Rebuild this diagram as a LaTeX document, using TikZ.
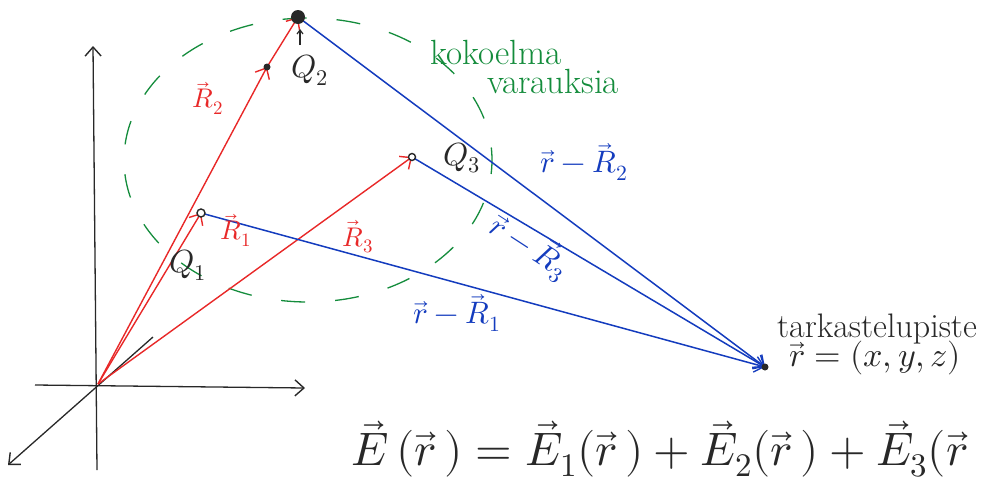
\documentclass[tikz,border=0pt]{standalone}
\usepackage{fontspec}
\usepackage{unicode-math}
\setmathfont{Latin Modern Math}
\usetikzlibrary{arrows.meta}
\definecolor{hred}{RGB}{232,40,40}
\definecolor{hblue}{RGB}{20,60,190}
\definecolor{hgreen}{RGB}{20,140,60}
\definecolor{hblack}{RGB}{40,40,40}
\tikzset{
  barb/.style={-{Straight Barb[length=9pt,width=16pt,line width=1.4pt]}},
  axis/.style={hblack, line width=1.3pt, barb},
  rvec/.style={hred, line width=1.4pt, barb},
  bvec/.style={hblue, line width=1.5pt, barb},
  qlab/.style={text=hblack, font=\fontsize{32}{34}\selectfont},
  rlab/.style={text=hred, font=\fontsize{27}{29}\selectfont},
  blab/.style={text=hblue, font=\fontsize{31}{33}\selectfont},
  glab/.style={text=hgreen, font=\fontsize{35}{37}\selectfont},
  tlab/.style={text=hblack, font=\fontsize{34}{36}\selectfont},
}
\begin{document}
\begin{tikzpicture}[x=1pt,y=-1pt]
\useasboundingbox (0,0) rectangle (991,488);
% points
\coordinate (O) at (98,384);
\coordinate (Q1) at (201,213);
\coordinate (Q2) at (298,17);
\coordinate (M) at (267,67);
\coordinate (Q3) at (412,157);
\coordinate (P) at (765,367);
\coordinate (ytop) at (93,46);
\coordinate (ybot) at (97,470);
\coordinate (xl) at (35,385);
\coordinate (xr) at (305,388);
\coordinate (zb) at (8,465);
\coordinate (zt) at (153,337);
% cloud
\draw[hgreen, line width=1.3pt, dash pattern=on 24pt off 30pt, dash phase=10pt] (308,160) ellipse [x radius=184, y radius=142];
% axes
\draw[axis] (ybot) -- (ytop);
\draw[axis] (xl) -- (xr);
\draw[axis] (zt) -- (zb);
% red position vectors
\draw[rvec] (O) -- (Q1);
\draw[rvec] (O) -- (M);
\draw[rvec] (M) -- (Q2);
\draw[rvec] (O) -- (Q3);
% blue difference vectors
\draw[bvec] (Q1) -- (P);
\draw[bvec] (Q2) -- (P);
\draw[bvec] (Q3) -- (P);
% charges
\fill[hblack] (Q2) circle (7);
\fill[hblack] (M) circle (3.5);
\draw[hblack, line width=1.4pt, fill=white] (Q1) circle (4);
\draw[hblack, line width=1.4pt, fill=white] (Q3) circle (3.5);
\fill[hblack] (P) circle (3.5);
\coordinate (qa) at (300,45);
\coordinate (qb) at (300,29);
\draw[hblack, line width=1.2pt, -{Straight Barb[length=4pt,width=6pt]}] (qa) -- (qb);
% labels
\node[qlab] (lQ1) at (188,265) {$Q_1$};
\node[qlab] (lQ2) at (310,70) {$Q_2$};
\node[qlab] (lQ3) at (462,158) {$Q_3$};
\node[rlab] (lR1) at (236,230) {$\vec R_1$};
\node[rlab] (lR2) at (208,98) {$\vec R_2$};
\node[rlab] (lR3) at (358,237) {$\vec R_3$};
\node[blab] (lb2) at (584,162) {$\vec r-\vec R_2$};
\node[blab, rotate=-33] (lb3) at (530,246) {$\vec r-\vec R_3$};
\node[blab] (lb1) at (457,313) {$\vec r-\vec R_1$};
\node[glab] (g1) at (496,52) {kokoelma};
\node[glab] (g2) at (553,81) {varauksia};
\node[tlab] (t1) at (877,329) {tarkastelupiste};
\node[tlab] (t2) at (875,358) {$\vec r=(x,y,z)$};
\node[anchor=base west, text=hblack, font=\fontsize{47}{50}\selectfont] (eq) at (348,465)
  {$\vec E\,(\vec r\,) = \vec E_1(\vec r\,) + \vec E_2(\vec r\,) + \vec E_3(\vec r$};
\end{tikzpicture}
\end{document}
